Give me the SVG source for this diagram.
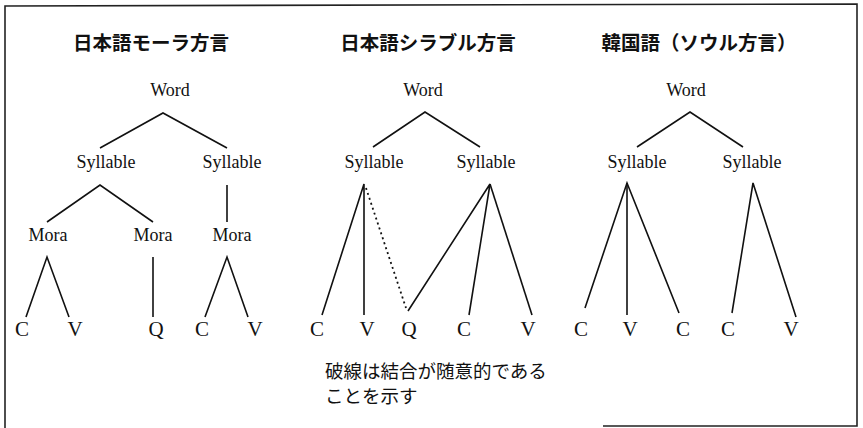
<svg xmlns="http://www.w3.org/2000/svg" width="863" height="428" viewBox="0 0 863 428">
<style>
.t{font-family:"Noto Sans CJK JP","Noto Sans CJK SC",sans-serif;font-size:19.5px;font-weight:bold;fill:#111;text-anchor:middle}
.n{font-family:"Noto Sans CJK JP","Noto Sans CJK SC",sans-serif;font-size:18.5px;fill:#111}
.w{font-family:"Liberation Serif","Times New Roman",serif;font-size:18px;fill:#111;text-anchor:middle}
.l{font-family:"Liberation Serif","Times New Roman",serif;font-size:21px;fill:#111;text-anchor:middle}
.e{stroke:#111;stroke-width:1.6;fill:none}
.d{stroke:#111;stroke-width:1.8;fill:none;stroke-dasharray:2 3.2}
.b{stroke:#222;stroke-width:1.6;fill:none}
</style>
<rect width="863" height="428" fill="#fff"/>
<path class="b" d="M5,428 V6 L857,4 V426 H603"/>
<g id="titles">
<text class="t" x="151" y="50">日本語モーラ方言</text>
<text class="t" x="428" y="50">日本語シラブル方言</text>
<text class="t" x="699" y="50">韓国語（ソウル方言）</text>
</g>
<g id="tree1">
<text class="w" x="170" y="96">Word</text>
<text class="w" x="106" y="168">Syllable</text>
<text class="w" x="232" y="168">Syllable</text>
<text class="w" x="48" y="241">Mora</text>
<text class="w" x="153" y="241">Mora</text>
<text class="w" x="232" y="241">Mora</text>
<text class="l" x="22" y="336">C</text>
<text class="l" x="75" y="336">V</text>
<text class="l" x="156" y="336">Q</text>
<text class="l" x="202" y="336">C</text>
<text class="l" x="255" y="336">V</text>
</g>
<g id="tree2">
<text class="w" x="423" y="96">Word</text>
<text class="w" x="374" y="168">Syllable</text>
<text class="w" x="486" y="168">Syllable</text>
<text class="l" x="317" y="336">C</text>
<text class="l" x="367" y="336">V</text>
<text class="l" x="409" y="336">Q</text>
<text class="l" x="464" y="336">C</text>
<text class="l" x="528" y="336">V</text>
</g>
<g id="tree3">
<text class="w" x="686" y="96">Word</text>
<text class="w" x="637" y="168">Syllable</text>
<text class="w" x="752" y="168">Syllable</text>
<text class="l" x="581" y="336">C</text>
<text class="l" x="630" y="336">V</text>
<text class="l" x="683" y="336">C</text>
<text class="l" x="728" y="336">C</text>
<text class="l" x="791" y="336">V</text>
</g>
<g id="note">
<text class="n" x="325" y="378">破線は結合が随意的である</text>
<text class="n" x="325" y="403">ことを示す</text>
</g>
<g id="connectors">
<path class="e" d="M100,148 L163,113 L227,148"/>
<path class="e" d="M47,222 L100,185 L153,222"/>
<path class="e" d="M227,185 V222"/>
<path class="e" d="M26,317 L47,257 L69,317"/>
<path class="e" d="M153,257 V317"/>
<path class="e" d="M205,317 L227,257 L248,317"/>
<path class="e" d="M373,147 L425,112 L480,147"/>
<path class="e" d="M322,315 L364,184 V315"/>
<path class="d" d="M366,188 L406,308"/>
<path class="e" d="M408,311 L490,184 L469,315"/>
<path class="e" d="M490,184 L532,315"/>
<path class="e" d="M637,147 L690,112 L743,147"/>
<path class="e" d="M585,308 L627,183 L679,313"/>
<path class="e" d="M627,183 V315"/>
<path class="e" d="M732,313 L753,183 L796,317"/>
</g>
</svg>
